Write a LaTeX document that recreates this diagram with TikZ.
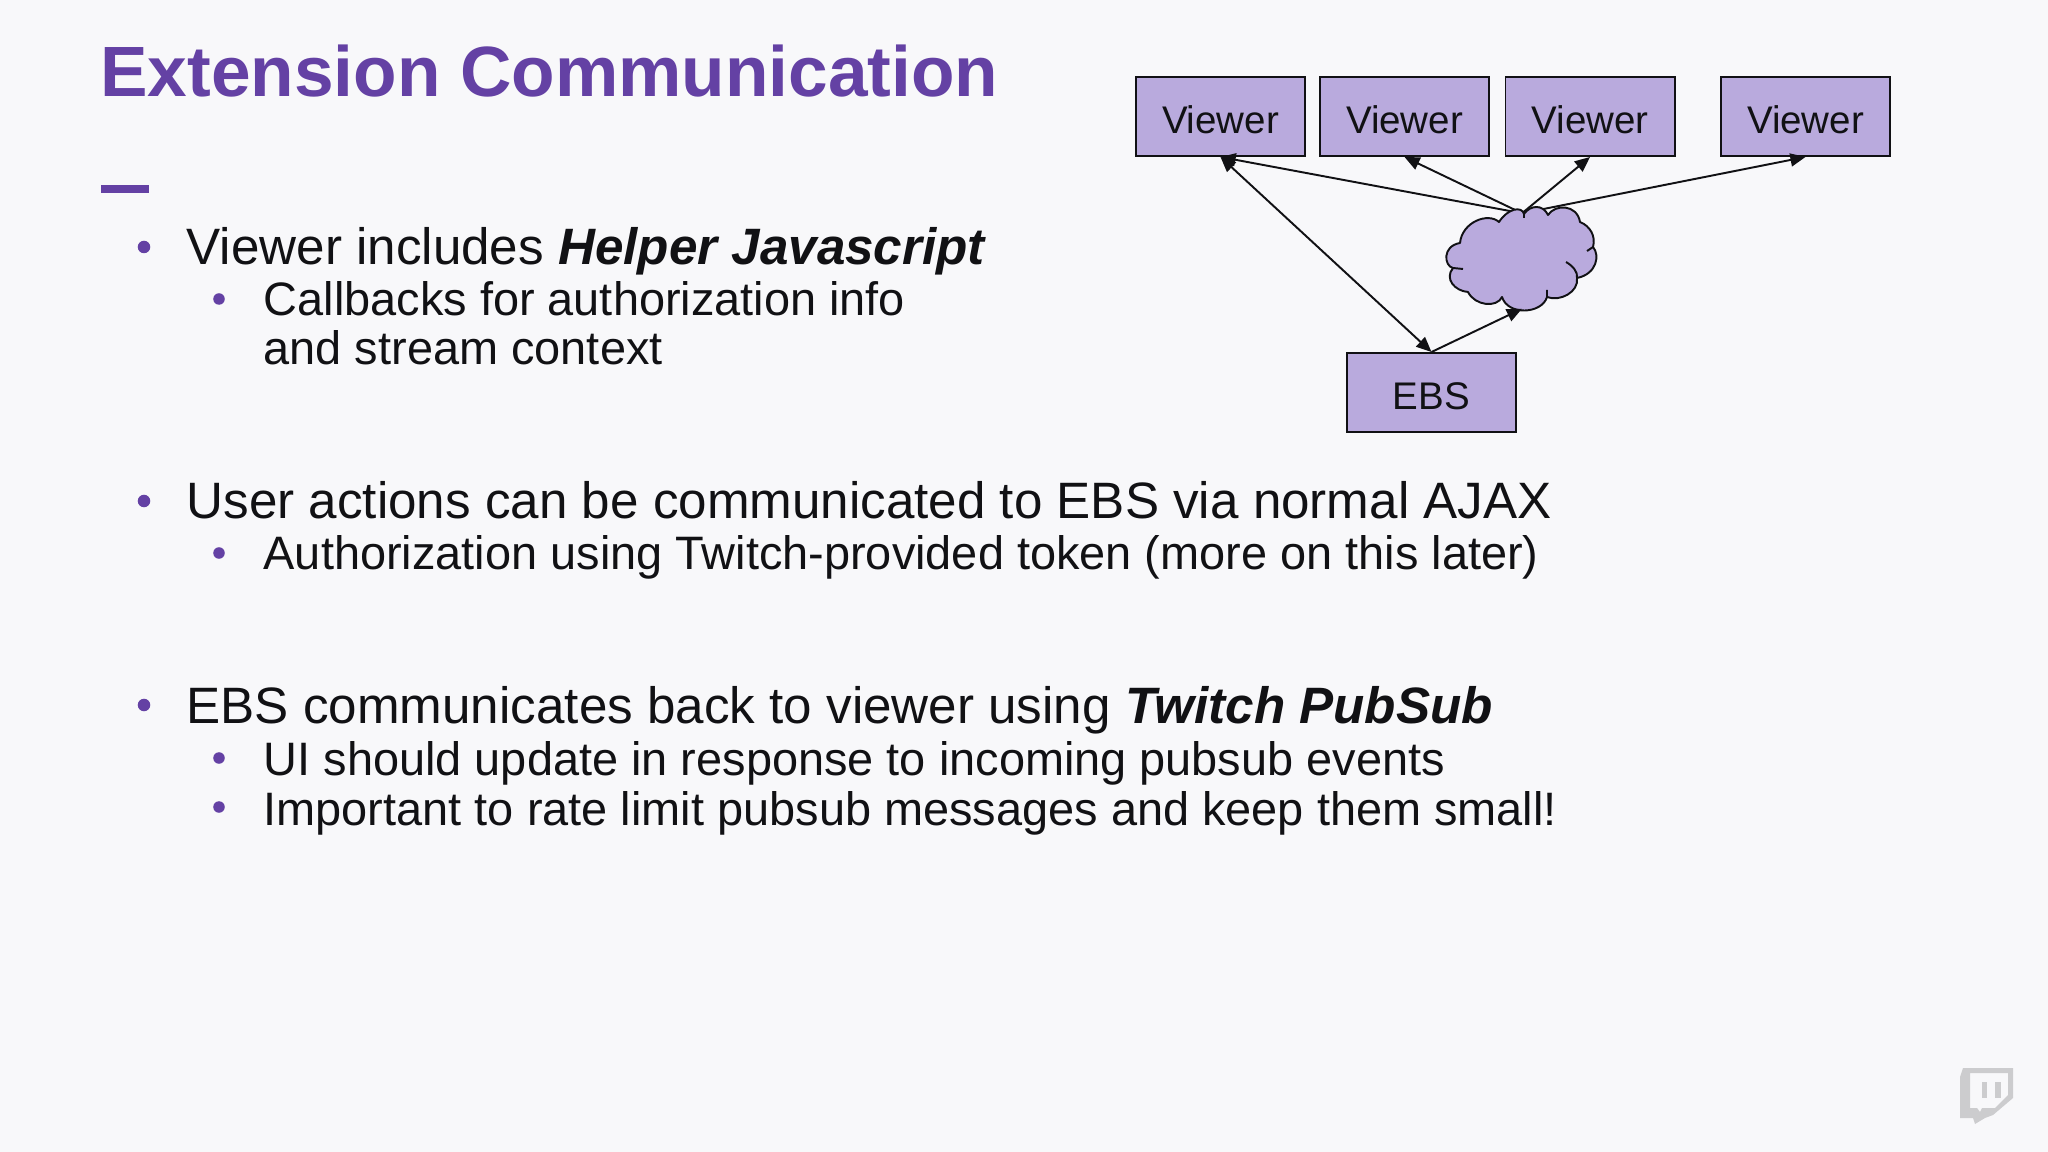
\documentclass[tikz,border=0pt]{standalone}
\usepackage{fontspec}
\setmainfont{Liberation Sans}
\usepackage{xcolor}
\usetikzlibrary{arrows.meta}
\definecolor{twitchPurple}{RGB}{100, 65, 164}
\definecolor{boxPurple}{RGB}{185, 170, 221}
\definecolor{slideBack}{RGB}{248, 248, 250}
\definecolor{logoGray}{RGB}{204, 204, 206}
\definecolor{bodyInk}{RGB}{17, 17, 20}
\tikzset{
  titletext/.style={anchor=base west, inner sep=0pt, text=twitchPurple, font=\fontsize{20.25pt}{24pt}\selectfont\bfseries},
  toptext/.style={anchor=base west, inner sep=0pt, text=bodyInk, font=\fontsize{14.55pt}{18pt}\selectfont},
  subtext/.style={anchor=base west, inner sep=0pt, text=bodyInk, font=\fontsize{13.34pt}{16pt}\selectfont},
  topdot/.style={circle, fill=twitchPurple, inner sep=0pt, minimum size=0.125cm},
  subdot/.style={circle, fill=twitchPurple, inner sep=0pt, minimum size=0.115cm},
  actor/.style={rectangle, draw=bodyInk, line width=0.55pt, fill=boxPurple, text=bodyInk, minimum width=1.69cm, minimum height=0.79cm, inner sep=0pt, text height=9.7pt, text depth=0pt, font=\fontsize{10.95pt}{13pt}\selectfont},
  link/.style={line width=0.55pt, draw=bodyInk, {Triangle[length=4.3pt,width=3.7pt]}-{Triangle[length=4.3pt,width=3.7pt]}},
  linkto/.style={line width=0.55pt, draw=bodyInk, -{Triangle[length=4.3pt,width=3.7pt]}}
}

\begin{document}
\begin{tikzpicture}[x=0.01cm, y=-0.01cm]
    \fill[slideBack] (0,0) rectangle (2048,1152);

    % Title and rule
    \node[titletext] (title) at (99.5,97) {Extension Communication};
    \fill[twitchPurple] (101,185) rectangle (149,193);

    % Bullets
    \node[topdot] (dotA) at (144,247) {};
    \node[toptext] (lineA) at (186,265) {Viewer includes \textbf{\textit{Helper Javascript}}};
    \node[subdot] (dotAa) at (219,299) {};
    \node[subtext] (lineAa) at (263,316) {Callbacks for authorization info};
    \node[subtext] (lineAb) at (263,365) {and stream context};

    \node[topdot] (dotB) at (144,501) {};
    \node[toptext] (lineB) at (186,518.5) {User actions can be communicated to EBS via normal AJAX};
    \node[subdot] (dotBa) at (219,553) {};
    \node[subtext] (lineBa) at (263,570) {Authorization using Twitch-provided token (more on this later)};

    \node[topdot] (dotC) at (144,705) {};
    \node[toptext] (lineC) at (186,723) {EBS communicates back to viewer using \textbf{\textit{Twitch PubSub}}};
    \node[subdot] (dotCa) at (219,758) {};
    \node[subtext] (lineCa) at (263,775) {UI should update in response to incoming pubsub events};
    \node[subdot] (dotCb) at (219,807) {};
    \node[subtext] (lineCb) at (263,825) {Important to rate limit pubsub messages and keep them small!};

    % Viewers and EBS
    \node[actor] (viewerA) at (1220.5,116.5) {Viewer};
    \node[actor] (viewerB) at (1404.5,116.5) {Viewer};
    \node[actor] (viewerC) at (1590,116.5) {Viewer};
    \node[actor] (viewerD) at (1805.5,116.5) {Viewer};
    \node[actor] (ebs) at (1431.5,392.5) {EBS};
    \node[minimum width=1.52cm, minimum height=0.94cm, inner sep=0pt] (cloud) at (1522,261) {};

    % Links out of the cloud go under its outline
    \draw[linkto] (cloud.north) -- (viewerA.south);
    \draw[linkto] (cloud.north) -- (viewerB.south);
    \draw[linkto] (cloud.north) -- (viewerC.south);
    \draw[linkto] (cloud.north) -- (viewerD.south);

    \draw[line width=0.55pt, draw=bodyInk, fill=boxPurple, line join=round]
        (1499,222) .. controls (1508,208) and (1522,206) .. (1524,214)
        .. controls (1530,205) and (1543,204) .. (1548,215)
        .. controls (1555,204) and (1577,204) .. (1580,222)
        .. controls (1590,226) and (1596,236) .. (1593,247)
        .. controls (1600,255) and (1597,274) .. (1577,278)
        .. controls (1579,292) and (1560,302) .. (1547,297)
        .. controls (1542,314) and (1508,316) .. (1502,297)
        .. controls (1497,308) and (1475,306) .. (1468,292)
        .. controls (1455,291) and (1444,279) .. (1453,268)
        .. controls (1444,266) and (1442,246) .. (1460,243)
        .. controls (1462,222) and (1488,212) .. (1499,222) -- cycle;
    \draw[line width=0.55pt, draw=bodyInk]
        (1566,262) .. controls (1573,266) and (1578,272) .. (1577,278)
        (1453,268) -- (1463,269)
        (1593,247) -- (1587,251)
        (1524,214) -- (1524,218)
        (1547,297) -- (1547,290);

    \draw[link] (viewerA.south) -- (ebs.north);
    \draw[linkto] (ebs.north) -- (cloud.south);

    % Corner logo
    \fill[logoGray, even odd rule]
        (1963,1068) -- (2013,1068) -- (2013,1098) -- (1993,1115) -- (1985,1118) -- (1975,1124) -- (1973,1118) -- (1960,1118) -- (1960,1077) -- cycle
        (1970,1073) -- (2008,1073) -- (2008,1095) -- (1995,1108) -- (1982,1108) -- (1980,1112) -- (1977,1108) -- (1970,1108) -- cycle;
    \fill[logoGray] (1982,1082) rectangle (1987,1098);
    \fill[logoGray] (1995,1082) rectangle (2001,1098);
\end{tikzpicture}
\end{document}
